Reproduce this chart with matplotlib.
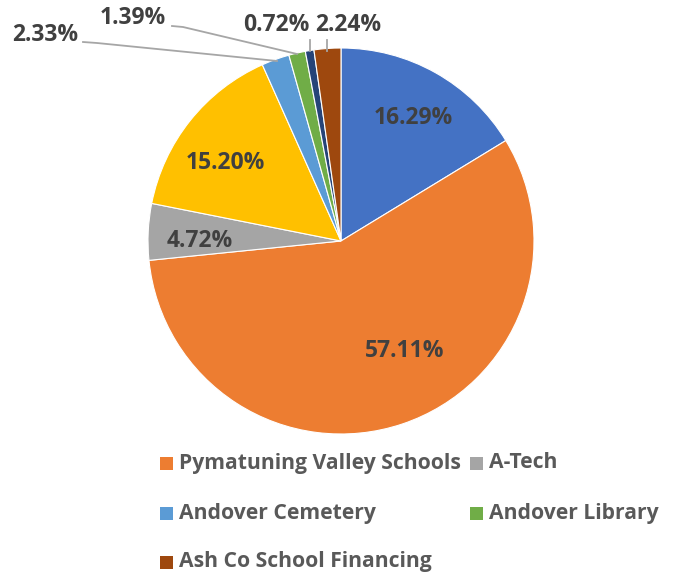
import matplotlib
matplotlib.use("Agg")
import matplotlib.pyplot as plt
from matplotlib.patches import Rectangle
import numpy as np

# Data (clockwise from 12 o'clock)
categories = ["Andover Township", "Pymatuning Valley Schools", "A-Tech", "Ashtabula County",
              "Andover Cemetery", "Andover Library", "Andover Village", "Ash Co School Financing"]
values = [16.29, 57.11, 4.72, 15.20, 2.33, 1.39, 0.72, 2.24]
colors = ["#4472C4", "#ED7D31", "#A5A5A5", "#FFC000", "#5B9BD5", "#70AD47", "#264478", "#9E480E"]
legend_shown = ["Pymatuning Valley Schools", "A-Tech", "Andover Cemetery",
                "Andover Library", "Ash Co School Financing"]

W, H = 683, 576
fig = plt.figure(figsize=(W / 100, H / 100), dpi=100)
ax = fig.add_axes([0, 0, 1, 1])

cx, cy, R = 341, H - 241, 193
wedges, _ = ax.pie(values, colors=colors, startangle=90, counterclock=False,
                   center=(cx, cy), radius=R, frame=True,
                   wedgeprops=dict(edgecolor="white", linewidth=0.8))
ax.set_xlim(0, W)
ax.set_ylim(0, H)
ax.set_aspect("equal")
ax.axis("off")

txt_color = "#404040"
fam = ["Open Sans", "DejaVu Sans"]
fs = 16.5

# inner labels: (radius fraction, angle deg) positions
inner = {0: (0.74, 59.5), 1: (0.66, -60.0), 2: (0.73, 180.0), 3: (0.72, 146.0)}
for i, (rf, ang) in inner.items():
    a = np.deg2rad(ang)
    ax.text(cx + rf * R * np.cos(a), cy + rf * R * np.sin(a), f"{values[i]:.2f}%",
            ha="center", va="center", fontsize=fs, fontweight="bold", color=txt_color, family=fam)

# outer labels with leader lines (pixel positions)
outer = {
    4: dict(text=(45, 35), line=[(83, 42), (97, 43), (277, 61)]),
    5: dict(text=(133, 18), line=[(172, 26), (183, 27), (297, 54)]),
    6: dict(text=(276, 25), line=[(310, 40), (310, 51)]),
    7: dict(text=(348, 25), line=[(327, 40), (327, 51)]),
}
for i, d in outer.items():
    tx, ty = d["text"]
    ax.text(tx, H - ty, f"{values[i]:.2f}%", ha="center", va="center", fontsize=fs,
            fontweight="bold", color=txt_color, family=fam)
    xs = [p[0] for p in d["line"]]
    ys = [H - p[1] for p in d["line"]]
    ax.plot(xs, ys, color="#A6A6A6", linewidth=1.3)

# legend (manual Excel-like layout)
leg_pos = {
    "Pymatuning Valley Schools": (160, 463),
    "A-Tech": (470, 463),
    "Andover Cemetery": (160, 513),
    "Andover Library": (470, 513),
    "Ash Co School Financing": (160, 562),
}
for name in legend_shown:
    idx = categories.index(name)
    x, y = leg_pos[name]
    ax.add_patch(Rectangle((x, H - y - 6.5), 13, 13, facecolor=colors[idx], edgecolor="none"))
    ax.text(x + 19, H - y, name, ha="left", va="center", fontsize=15.2, fontweight="bold",
            color="#595959", family=fam)

fig.savefig("out.png", dpi=100, facecolor="white")
